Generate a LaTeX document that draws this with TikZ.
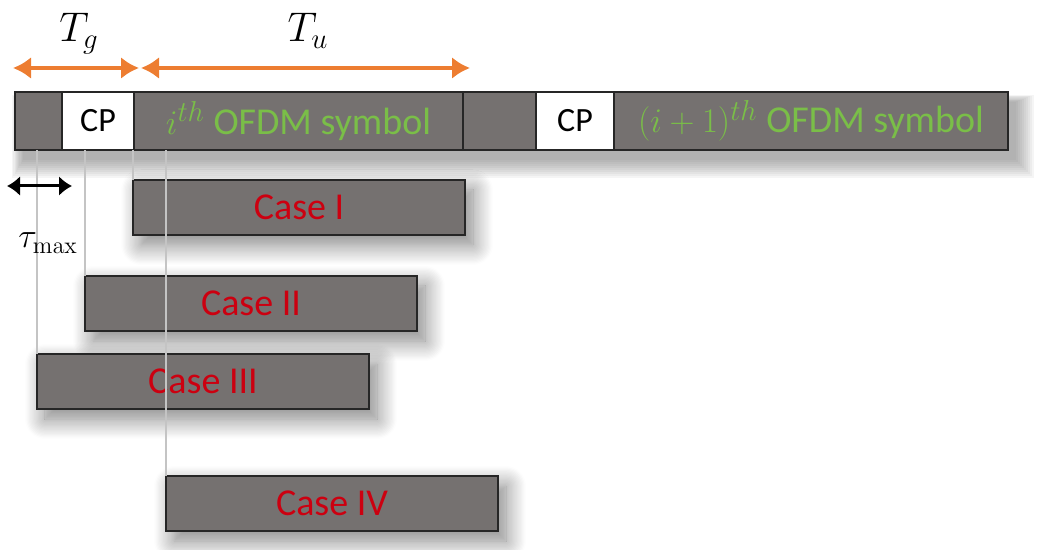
\documentclass[tikz,border=0pt]{standalone}
\usepackage{amsmath}
\usepackage[no-math]{fontspec}
\setmainfont{Carlito}
\usepackage{xcolor}
\usetikzlibrary{positioning}
\usetikzlibrary{arrows.meta}
\usetikzlibrary{shadows.blur}

\definecolor{slotgrey}{RGB}{117,113,112}
\definecolor{symgreen}{RGB}{122,190,72}
\definecolor{casered}{RGB}{204,0,16}
\definecolor{spanorange}{RGB}{237,125,49}
\definecolor{guidegrey}{RGB}{196,196,196}

\tikzset{
    soft shadow/.style={blur shadow={shadow xshift=4pt, shadow yshift=-5pt, shadow blur radius=10pt, shadow opacity=50, shadow blur steps=16}}
}

\begin{document}
\begin{tikzpicture}[
            x=0.5pt, y=-0.5pt,
            slot/.style={draw=black!85, line width=0.8pt, fill=slotgrey, minimum height=29pt, inner sep=0pt, outer sep=0pt},
            cp/.style={slot, fill=white, font=\fontsize{17}{19}\selectfont},
            sym/.style={slot, text=symgreen, font=\fontsize{19}{22}\selectfont},
            case/.style={slot, minimum width=166pt, minimum height=27.5pt, anchor=north west, text=casered,
                font=\fontsize{19}{22}\selectfont, soft shadow},
            span/.style={{Latex[length=9pt, width=11pt]}-{Latex[length=9pt, width=11pt]}, line width=2.2pt, draw=spanorange},
            guide/.style={draw=guidegrey, line width=0.6pt}
        ]
        \useasboundingbox (0,0) rectangle (1041,550);

        % outline of the symbol bar, with a layered shadow under it
        \node[minimum width=496.5pt, minimum height=29pt, inner sep=0pt, outer sep=0pt, anchor=north west] (bar) at (15,92) {};
        \foreach \r in {0,...,9}
            \fill[black!70, fill opacity=0.055]
                ([xshift={(4-0.6*\r)*1pt}, yshift={(0.4*\r-5)*1pt}]bar.north west)
                rectangle ([xshift={(4+\r)*1pt}, yshift={(-5-\r)*1pt}]bar.south east);

        % the two OFDM symbols with their cyclic prefixes
        \node[slot, minimum width=23.5pt, anchor=north west] (g1) at (bar.north west) {};
        \node[cp, minimum width=36pt, right=0pt of g1] (cp1) {CP};
        \node[sym, minimum width=164.5pt, right=0pt of cp1] (s1) {$i^{th}$ OFDM symbol};
        \node[slot, minimum width=36.5pt, right=0pt of s1] (g2) {};
        \node[cp, minimum width=39pt, right=0pt of g2] (cp2) {CP};
        \node[sym, minimum width=197pt, right=0pt of cp2] (s2) {$(i+1)^{th}$ OFDM symbol};

        % received copies
        \node[case] (c1) at (133,180) {Case I};
        \node[case] (c2) at (85,276) {Case II};
        \node[case] (c3) at (37,354) {Case III};
        \node[case] (c4) at (166,476) {Case IV};

        \draw[guide] (c1.north west) -- (c1.north west |- s1.south);
        \draw[guide] (c2.north west) -- (c2.north west |- s1.south);
        \draw[guide] (c3.north west) -- (c3.north west |- s1.south);
        \draw[guide] (c4.north west) -- (c4.north west |- s1.south);

        % durations
        \coordinate (tg0) at (13,68);
        \coordinate (tg1) at (139,68);
        \coordinate (tu0) at (141,68);
        \coordinate (tu1) at (470,68);
        \draw[span] (tg0) -- (tg1);
        \draw[span] (tu0) -- (tu1);
        \node[anchor=base, font=\fontsize{22}{24}\selectfont] (tg) at (79,42) {$T_g$};
        \node[anchor=base, font=\fontsize{22}{24}\selectfont] (tu) at (308,42) {$T_u$};

        \coordinate (tm0) at (7,186);
        \coordinate (tm1) at (72,186);
        \draw[{Latex[length=6.5pt, width=10pt]}-{Latex[length=6.5pt, width=10pt]}, line width=1.5pt] (tm0) -- (tm1);
        \node[anchor=base, font=\fontsize{18}{20}\selectfont] (tm) at (48,248) {$\tau_{\max}$};
        \end{tikzpicture}
\end{document}
